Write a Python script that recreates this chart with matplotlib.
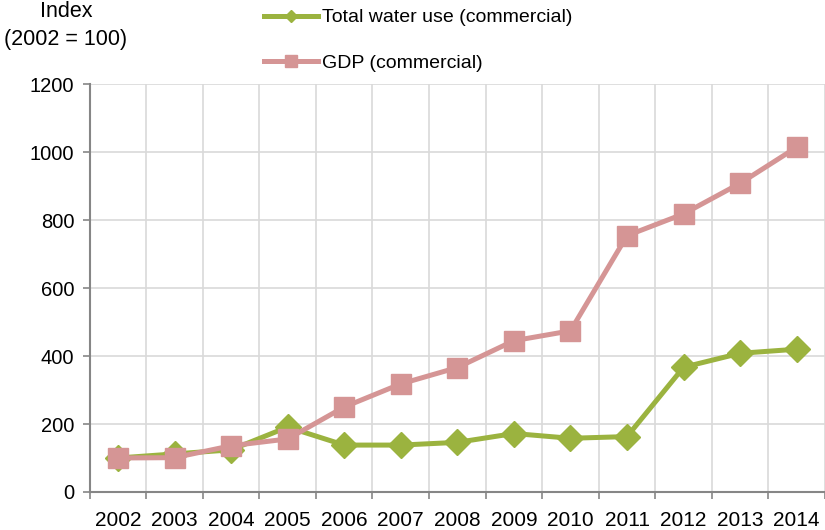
import matplotlib.pyplot as plt
from matplotlib.lines import Line2D
import numpy as np

plt.rcParams['font.family'] = ['Liberation Sans', 'DejaVu Sans']

years = ["2002", "2003", "2004", "2005", "2006", "2007", "2008",
         "2009", "2010", "2011", "2012", "2013", "2014"]
water_use = [100, 112, 124, 191, 138, 138, 146, 172, 158, 163, 367, 408, 420]
gdp = [100, 101, 136, 156, 250, 318, 366, 445, 474, 754, 818, 908, 1014]

green = "#9bb33f"
pink = "#d59595"
axis_grey = "#868686"

fig = plt.figure(figsize=(8.25, 5.3), dpi=100)
ax = fig.add_axes([0.1087, 0.0717, 0.8913, 0.7698])

x = np.arange(len(years))
ax.plot(x, water_use, color=green, lw=3.6, marker="D", ms=13.5, zorder=3)
ax.plot(x, gdp, color=pink, lw=3.6, marker="s", ms=15, zorder=4)

ax.set_xlim(-0.5, len(years) - 0.5)
ax.set_ylim(0, 1200)
ax.set_yticks(range(0, 1201, 200))
ax.set_xticks(x)
ax.set_xticklabels(years)
ax.set_xticks(np.arange(-0.5, len(years)), minor=True)
ax.tick_params(axis="x", which="major", length=0, pad=14, labelsize=15)
ax.tick_params(axis="x", which="minor", length=5, width=1.2, color=axis_grey, direction="out")
ax.tick_params(axis="y", length=5, width=1.2, color=axis_grey, direction="out", labelsize=14.5, pad=6)

ax.grid(True, which="minor", axis="x", color="#d9d9d9", lw=1.2)
ax.grid(True, which="major", axis="y", color="#d9d9d9", lw=1.2)
ax.set_axisbelow(True)

for side in ["top", "right"]:
    ax.spines[side].set_visible(False)
for side in ["left", "bottom"]:
    ax.spines[side].set_color(axis_grey)
    ax.spines[side].set_linewidth(1.5)

fig.text(66 / 825, 1 - 1 / 530, "Index\n(2002 = 100)", ha="center", va="top",
         fontsize=15.5, linespacing=1.45)

handles = [
    Line2D([], [], color=green, lw=3.6, marker="D", ms=6),
    Line2D([], [], color=pink, lw=3.6, marker="s", ms=8),
]
fig.legend(handles, ["Total water use (commercial)", "GDP (commercial)"],
           loc="upper left", bbox_to_anchor=(256 / 825, 1 - 1 / 530),
           frameon=False, fontsize=14, handlelength=2.8, handletextpad=0.2,
           labelspacing=1.45, borderaxespad=0)

fig.savefig("out.png", dpi=100)
